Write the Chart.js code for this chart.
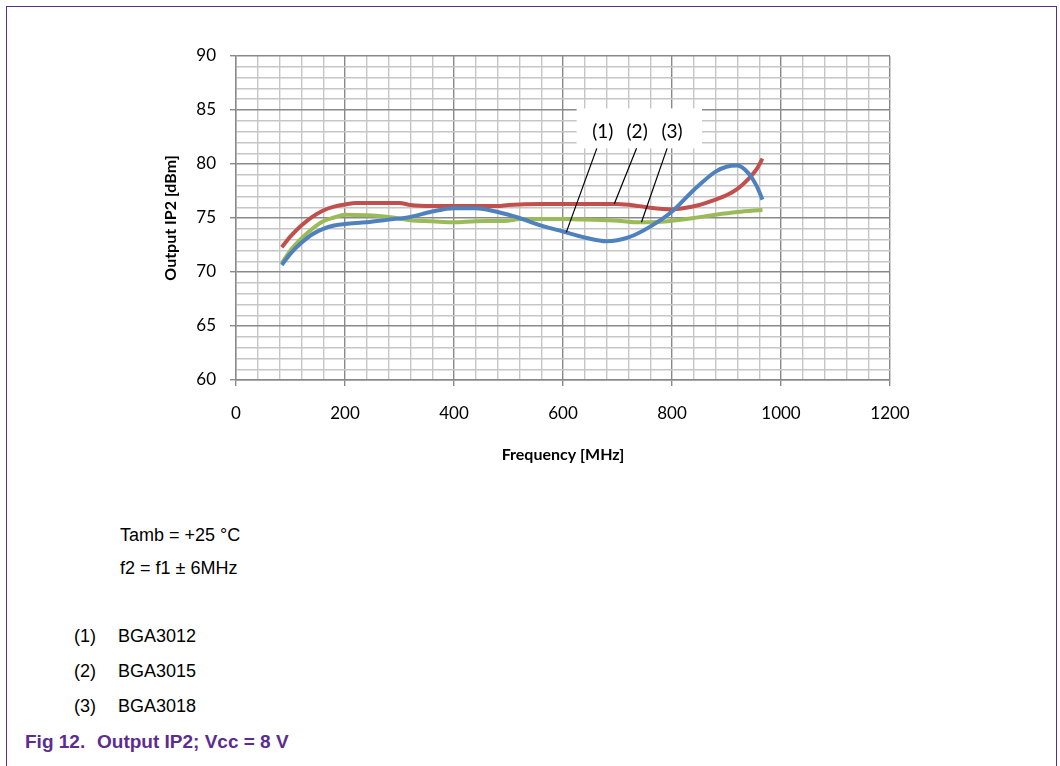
<!DOCTYPE html>
<html>
<head>
<meta charset="utf-8">
<script src="https://cdn.jsdelivr.net/npm/chart.js@4.4.1/dist/chart.umd.min.js"></script>
<style>
  html, body { margin: 0; padding: 0; background: #fff; }
  body { width: 1060px; height: 766px; position: relative; overflow: hidden; }
  #frame {
    position: absolute; left: 6px; top: 6px; width: 1051px; height: 800px;
    border: 1.5px solid #5c2d91; border-bottom: none; box-sizing: border-box;
  }
  #chart { position: absolute; left: 0; top: 0; }
  .txt {
    position: absolute; font-family: "Liberation Sans", Arial, sans-serif;
    font-size: 18px; line-height: 20px; color: #000; white-space: nowrap;
  }
  .cap {
    position: absolute; font-family: "Liberation Sans", Arial, sans-serif;
    font-size: 19px; line-height: 22px; font-weight: bold; color: #5c2d91; white-space: nowrap;
  }
</style>
</head>
<body>
<div id="frame"></div>
<canvas id="chart" width="1060" height="500"></canvas>

<div class="txt" style="left:120px; top:525px;">Tamb = +25 °C</div>
<div class="txt" style="left:120px; top:558px;">f2 = f1 ± 6MHz</div>

<div class="txt" style="left:74px; top:626px;">(1)</div>
<div class="txt" style="left:118px; top:626px;">BGA3012</div>
<div class="txt" style="left:74px; top:661px;">(2)</div>
<div class="txt" style="left:118px; top:661px;">BGA3015</div>
<div class="txt" style="left:74px; top:696px;">(3)</div>
<div class="txt" style="left:118px; top:696px;">BGA3018</div>

<div class="cap" style="left:25px; top:731px;">Fig 12.</div>
<div class="cap" style="left:97px; top:731px;">Output IP2; Vcc = 8 V</div>

<script>
// Output IP2 (dBm) versus frequency (MHz), one series per device
const seriesNames = ['BGA3012', 'BGA3015', 'BGA3018'];
const calloutTexts = ['(1)', '(2)', '(3)'];

const freqBGA3012 = [84, 100, 120, 140, 160, 180, 200, 240, 280, 320, 360, 400, 440, 480, 520, 560, 600, 640, 680, 720, 760, 800, 840, 880, 900, 920, 940, 955, 966];
const ip2BGA3012  = [70.65, 71.7, 72.7, 73.5, 74.0, 74.3, 74.45, 74.6, 74.85, 75.1, 75.6, 75.9, 75.9, 75.55, 75.0, 74.3, 73.75, 73.2, 72.85, 73.2, 74.2, 75.6, 77.6, 79.3, 79.75, 79.85, 79.15, 78.0, 76.7];

const freqBGA3015 = [84, 100, 120, 140, 160, 180, 200, 220, 300, 320, 360, 480, 500, 560, 700, 740, 760, 800, 820, 850, 880, 900, 920, 940, 955, 966];
const ip2BGA3015  = [72.3, 73.3, 74.3, 75.1, 75.7, 76.05, 76.25, 76.4, 76.4, 76.2, 76.1, 76.1, 76.2, 76.3, 76.3, 76.1, 75.95, 75.8, 75.9, 76.2, 76.7, 77.1, 77.7, 78.6, 79.5, 80.5];

const freqBGA3018 = [84, 100, 120, 140, 160, 180, 200, 240, 280, 320, 360, 400, 440, 500, 520, 600, 640, 700, 740, 780, 800, 840, 880, 920, 966];
const ip2BGA3018  = [70.8, 72.0, 73.1, 74.0, 74.7, 75.05, 75.3, 75.25, 75.1, 74.8, 74.7, 74.6, 74.7, 74.75, 74.9, 74.9, 74.85, 74.75, 74.6, 74.65, 74.75, 75.0, 75.3, 75.55, 75.75];

// Axis ranges and label steps
const xMin = 0, xMax = 1200, xMinorStep = 40, xMajorStep = 200;
const yMin = 60, yMax = 90, yMinorStep = 1, yMajorStep = 5;

const toPoints = (fs, vs) => fs.map((f, i) => ({ x: f, y: vs[i] }));

const colours = { BGA3012: '#4f81bd', BGA3015: '#c0504d', BGA3018: '#9bbb59' };

// Callout layout: label box and leader lines, in axis units
const calloutLayout = {
  box: { x1: 625, x2: 855, y1: 81.45, y2: 85.15 },
  textX: [673, 736, 800], textY: 83.0,
  leaderStartX: [662, 735, 791], leaderStartY: 81.45,
  leaderTargetX: [606, 694, 744]
};

function interp(fs, vs, f) {
  for (let i = 0; i < fs.length - 1; i++) {
    if (f >= fs[i] && f <= fs[i + 1]) {
      const t = (f - fs[i]) / (fs[i + 1] - fs[i]);
      return vs[i] + t * (vs[i + 1] - vs[i]);
    }
  }
  return vs[vs.length - 1];
}

const seriesFreq = [freqBGA3012, freqBGA3015, freqBGA3018];
const seriesIp2 = [ip2BGA3012, ip2BGA3015, ip2BGA3018];

const calloutPlugin = {
  id: 'callouts',
  afterDatasetsDraw(chart) {
    const { ctx, scales: { x, y } } = chart;
    const L = calloutLayout;
    ctx.save();
    // white label box
    const bx1 = x.getPixelForValue(L.box.x1), bx2 = x.getPixelForValue(L.box.x2);
    const by1 = y.getPixelForValue(L.box.y2), by2 = y.getPixelForValue(L.box.y1);
    ctx.fillStyle = '#ffffff';
    ctx.fillRect(bx1, by1, bx2 - bx1, by2 - by1);
    // leader lines
    ctx.strokeStyle = '#000';
    ctx.lineWidth = 1.2;
    for (let i = 0; i < 3; i++) {
      const tv = interp(seriesFreq[i], seriesIp2[i], L.leaderTargetX[i]);
      ctx.beginPath();
      ctx.moveTo(x.getPixelForValue(L.leaderStartX[i]), y.getPixelForValue(L.leaderStartY));
      ctx.lineTo(x.getPixelForValue(L.leaderTargetX[i]), y.getPixelForValue(tv));
      ctx.stroke();
    }
    // label text
    ctx.fillStyle = '#000';
    ctx.font = '19px Lato, "Open Sans", sans-serif';
    ctx.textAlign = 'center';
    ctx.textBaseline = 'middle';
    for (let i = 0; i < 3; i++) {
      ctx.fillText(calloutTexts[i], x.getPixelForValue(L.textX[i]), y.getPixelForValue(L.textY));
    }
    ctx.restore();
  }
};

const MAJOR = '#898989', MINOR = '#c6c6c6';
const tickFont = { family: 'Lato, "Open Sans", sans-serif', size: 17 };
const titleFont = { family: 'Lato, "Open Sans", sans-serif', size: 16, weight: 'bold' };

new Chart(document.getElementById('chart'), {
  type: 'line',
  data: {
    datasets: [
      { label: seriesNames[0], data: toPoints(freqBGA3012, ip2BGA3012), borderColor: colours.BGA3012 },
      { label: seriesNames[1], data: toPoints(freqBGA3015, ip2BGA3015), borderColor: colours.BGA3015 },
      { label: seriesNames[2], data: toPoints(freqBGA3018, ip2BGA3018), borderColor: colours.BGA3018 }
    ].map(d => Object.assign(d, {
      borderWidth: 4, pointRadius: 0, fill: false,
      cubicInterpolationMode: 'monotone', borderCapStyle: 'butt'
    }))
  },
  options: {
    responsive: false,
    animation: false,
    events: [],
    layout: { padding: { left: 136, top: 56, right: 170, bottom: 30 } },
    plugins: { legend: { display: false }, tooltip: { enabled: false } },
    scales: {
      x: {
        type: 'linear', min: xMin, max: xMax,
        afterFit: s => { s.height = 90; },
        ticks: {
          stepSize: xMinorStep, autoSkip: false, maxRotation: 0, padding: 17,
          color: '#000', font: tickFont,
          callback: v => (v % xMajorStep === 0 ? String(v) : '')
        },
        grid: {
          color: c => (c.tick && c.tick.value % xMajorStep === 0 ? MAJOR : MINOR),
          tickColor: c => (c.tick && c.tick.value % xMajorStep === 0 ? MAJOR : 'rgba(0,0,0,0)'),
          lineWidth: 1.4, tickLength: 6
        },
        border: { display: true, color: MAJOR, width: 1.4 },
        title: { display: true, text: 'Frequency [MHz]', color: '#000', font: titleFont, padding: { top: 0, bottom: 6 } }
      },
      y: {
        type: 'linear', min: yMin, max: yMax,
        afterFit: s => { s.width = 100; },
        ticks: {
          stepSize: yMinorStep, autoSkip: false, padding: 14,
          color: '#000', font: tickFont,
          callback: v => (v % yMajorStep === 0 ? String(v) : '')
        },
        grid: {
          color: c => (c.tick && c.tick.value % yMajorStep === 0 ? MAJOR : MINOR),
          tickColor: c => (c.tick && c.tick.value % yMajorStep === 0 ? MAJOR : 'rgba(0,0,0,0)'),
          lineWidth: 1.4, tickLength: 6
        },
        border: { display: true, color: MAJOR, width: 1.4 },
        title: { display: true, text: 'Output IP2 [dBm]', color: '#000', font: titleFont, padding: { top: 25, bottom: 0 } }
      }
    }
  },
  plugins: [calloutPlugin]
});
</script>
</body>
</html>
